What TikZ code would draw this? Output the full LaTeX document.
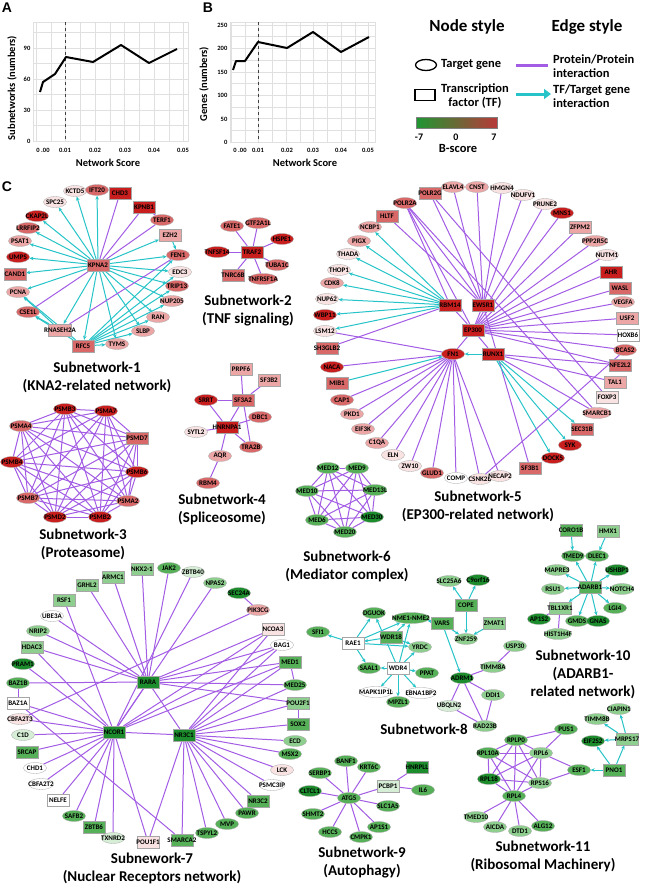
\documentclass[tikz,border=0pt]{standalone}
\usepackage{fontspec}
\setmainfont{Carlito}
\newfontfamily\arialfont{Liberation Sans}
\usepackage{xcolor}
\usepackage{tikz}
\usetikzlibrary{shapes.geometric,arrows.meta}

\definecolor{r3}{RGB}{200,30,30}
\definecolor{r2}{RGB}{217,104,104}
\definecolor{r1}{RGB}{236,166,166}
\definecolor{r0}{RGB}{249,226,226}
\definecolor{g3}{RGB}{28,140,44}
\definecolor{g2}{RGB}{86,176,88}
\definecolor{g1}{RGB}{142,206,142}
\definecolor{g0}{RGB}{214,238,214}
\definecolor{ppicol}{RGB}{163,92,228}
\definecolor{tfcol}{RGB}{38,196,200}
\definecolor{bgreen}{RGB}{30,150,50}
\definecolor{bred}{RGB}{184,58,58}

\pgfdeclarelayer{paper}
\pgfdeclarelayer{edges}
\pgfsetlayers{paper,edges,main}

\newcommand{\gbox}[1]{\makebox[0.7\width]{#1}} % label may run over its node

\begin{document}
\begin{tikzpicture}[x=1pt,y=-1pt,
    tg/.style={ellipse, draw=black!35, line width=0.3pt, minimum width=23pt, minimum height=11pt, inner sep=0pt, font=\fontsize{7}{7.5}\selectfont\bfseries},
    tfbox/.style={rectangle, draw=black!35, line width=0.3pt, minimum width=22pt, minimum height=12pt, inner sep=0.5pt, font=\fontsize{7}{7.5}\selectfont\bfseries},
    ppi/.style={draw=ppicol, line width=1pt},
    tf/.style={draw=tfcol, line width=1pt, -{Stealth[length=4pt,width=3.5pt]}},
    ttl/.style={font=\fontsize{15}{18}\selectfont\bfseries, align=center},
    panel/.style={font=\arialfont\bfseries\fontsize{14}{16}\selectfont},
    tick/.style={font=\fontsize{6.5}{7}\selectfont\bfseries, inner sep=0.5pt},
    axt/.style={font=\fontsize{10.5}{12}\selectfont\bfseries},
    gridline/.style={draw=black!12, line width=0.5pt},
    dataline/.style={line width=2pt, line join=round},
    lhead/.style={font=\fontsize{17}{19}\selectfont\bfseries},
    ltext/.style={font=\fontsize{12.5}{14.5}\selectfont\bfseries, inner sep=0pt},
    lsmall/.style={font=\fontsize{10}{11}\selectfont\bfseries, inner sep=0pt}]

    \begin{pgfonlayer}{paper}
        \fill[white] (0,0) rectangle (645,886);
    \end{pgfonlayer}
    \useasboundingbox (0,0) rectangle (645,886);

    % panel A: subnetworks against network score
    \node[panel] (lblA) at (7,8) {A};
    \foreach \i in {0,...,10} \draw[gridline] ({36+\i*14.75},22) -- ({36+\i*14.75},141);
    \foreach \j in {0,...,7} \draw[gridline] (33,{141-\j*15.5}) -- (188,{141-\j*15.5});
    \draw[gridline] (33,22) rectangle (188,141);
    \draw[dashed, black!75, line width=0.8pt] (65,22) -- (65,141);
    \draw[dataline] (40,92) -- (43,82) -- (55,74) -- (66,57) -- (93,62) -- (121,45) -- (149,63) -- (177,49);
    \foreach \v/\py [count=\k] in {0/141,30/110,60/79,90/48} \node[tick, anchor=east] (tay\k) at (31,\py) {\v};
    \foreach \px/\v [count=\k] in {43/0 .00,65/0.01,95/0.02,125/0.03,154/0.04,183/0.05} \node[tick] (tax\k) at (\px,150) {\v};
    \node[axt, rotate=90] (ylA) at (12,88) {Subnetworks (numbers)};
    \node[axt] (xlA) at (108,163) {Network Score};

    % panel B: genes against network score
    \node[panel] (lblB) at (208,8) {B};
    \foreach \i in {0,...,10} \draw[gridline] ({231+\i*13.75},22) -- ({231+\i*13.75},142);
    \foreach \j in {0,...,10} \draw[gridline] (230,{142-\j*11.7}) -- (375,{142-\j*11.7});
    \draw[gridline] (230,22) rectangle (375,142);
    \draw[dashed, black!75, line width=0.8pt] (258,22) -- (258,142);
    \draw[dataline] (233,70) -- (236,61) -- (245,61) -- (258,42) -- (287,48) -- (313,32) -- (341,52) -- (369,37);
    \foreach \v/\py [count=\k] in {0/142,50/119,100/95,150/72,200/48,250/25} \node[tick, anchor=east] (tby\k) at (228,\py) {\v};
    \foreach \px/\v [count=\k] in {240/0 .00,258/0.01,287/0.02,313/0.03,341/0.04,368/0.05} \node[tick] (tbx\k) at (\px,150) {\v};
    \node[axt, rotate=90] (ylB) at (204,84) {Genes (numbers)};
    \node[axt] (xlB) at (305,163) {Network Score};

    % legend
    \node[lhead] (nodestyle) at (467,27) {Node style};
    \node[lhead] (edgestyle) at (587,27) {Edge style};
    \node[ellipse, draw, line width=1.3pt, minimum width=21pt, minimum height=11pt, inner sep=0pt] (lgtg) at (426,65) {};
    \node[ltext, anchor=west] (lgtgt) at (441,65) {Target gene};
    \node[draw, line width=1.3pt, minimum width=20pt, minimum height=11pt, inner sep=0pt] (lgtf) at (425,95) {};
    \node[ltext, align=center] (lgtft) at (475,96) {Transcription\\factor (TF)};
    \shade[left color=bgreen, middle color=white, right color=bred] (416,117) rectangle (497,128);
    \draw[black!50, line width=0.4pt] (416,117) rectangle (497,128);
    \foreach \px/\v [count=\k] in {419/-7,456/0,494/7} \node[lsmall] (lgb\k) at (\px,137) {\v};
    \node[ltext] (lgbs) at (458,148) {B-score};
    \coordinate (lgp1) at (516,65);
    \coordinate (lgp2) at (548,65);
    \draw[ppi, line width=3pt] (lgp1) -- (lgp2);
    \coordinate (lgt1) at (516,94);
    \coordinate (lgt2) at (551,94);
    \draw[draw=tfcol, line width=3pt, -{Triangle[length=7pt,width=10pt]}] (lgt1) -- (lgt2);
    \node[ltext, anchor=west, align=left] (lgppi) at (553,66) {Protein/Protein\\interaction};
    \node[ltext, anchor=west, align=left] (lgtfe) at (553,96) {TF/Target gene\\interaction};

    % panel C
    \node[panel] (lblC) at (7,187) {C};

    % subnetwork-1
    \foreach \gn/\gx/\gy/\gc in {KCTD5/75/191/r0, IFT20/97/190/r2, SPC25/55/202/r0, TERF1/162/220/r2, CKAP2L/37/216/r3,
        LRRFIP2/28/228/r2, PSAT1/20/241/r1, FEN1/178/255/r2, UMPS/18/257/r3, EDC3/180/272/r0, TRIP13/177/286/r2,
        PCNA/18/292/r1, NUP205/172/301/r1, CSE1L/28/312/r2, RAN/158/317/r1, SLBP/143/331/r1, TYMS/117/344/r1}
        \node[tg, fill=\gc] (\gn) at (\gx,\gy) {\gbox{\gn}};
    \foreach \gn/\gx/\gy/\gc in {KPNA2/98/265/r2, CHD3/120/193/r3, KPNB1/144/207/r3, EZH2/170/235/r1,
        CAND1/15/274/r2, RNASEH2A/60/330/r1, RFC5/83/346/r2}
        \node[tfbox, fill=\gc] (\gn) at (\gx,\gy) {\gbox{\gn}};
    \node[ttl] (sn1) at (97,377) {Subnetwork-1\\(KNA2-related network)};

    % subnetwork-2
    \foreach \gn/\gx/\gy/\gc in {FATE1/232/226/r2, GTF2A1L/258/223/r2, HSPE1/282/239/r3, TNFSF14/217/252/r3,
        TUBA1C/277/265/r2, TNFRSF1A/263/279/r2}
        \node[tg, fill=\gc] (\gn) at (\gx,\gy) {\gbox{\gn}};
    \foreach \gn/\gx/\gy/\gc in {TRAF2/252/252/r3, TNRC6B/233/275/r2}
        \node[tfbox, fill=\gc] (\gn) at (\gx,\gy) {\gbox{\gn}};
    \node[ttl] (sn2) at (248,311) {Subnetwork-2\\(TNF signaling)};

    % subnetwork-3
    \foreach \gn/\gx/\gy/\gc in {PSMB3/65/409/r3, PSMA7/106/411/r3, PSMA4/21/426/r2, PSMB4/12/462/r3, PSMB6/137/472/r3,
        PSMB7/28/498/r2, PSMA2/128/501/r2, PSMD2/55/517/r3, PSMB2/100/517/r3}
        \node[tg, fill=\gc] (\gn) at (\gx,\gy) {\gbox{\gn}};
    \node[tfbox, fill=r2] (PSMD7) at (137,438) {\gbox{PSMD7}};
    \node[ttl] (sn3) at (83,544) {Subnetwork-3\\(Proteasome)};

    % subnetwork-4
    \foreach \gn/\gx/\gy/\gc in {SRRT/206/400/r3, DBC1/260/417/r2, SYTL2/196/432/r0, TRA2B/251/447/r2,
        AQR/220/456/r1, RBM4/208/483/r2}
        \node[tg, fill=\gc] (\gn) at (\gx,\gy) {\gbox{\gn}};
    \foreach \gn/\gx/\gy/\gc in {PRPF6/241/369/r1, SF3B2/269/380/r1, SF3A2/243/400/r2, HNRNPA1/227/427/r3}
        \node[tfbox, fill=\gc] (\gn) at (\gx,\gy) {\gbox{\gn}};
    \node[ttl] (sn4) at (222,509) {Subnetwork-4\\(Spliceosome)};

    % subnetwork-5
    \foreach \gn/\gx/\gy/\gc in {ELAVL4/453/187/r1, CNST/477/187/r1, HMGN4/502/188/r0, NDUFV1/523/195/r0,
        POLR2A/405/203/r2, PRUNE2/545/204/r0, MNS1/562/213/r3, NCBP1/370/227/r1, PIGX/359/241/r1,
        PPP2R5C/595/241/r1, THADA/348/254/r0, NUTM1/607/255/r0, THOP1/339/270/r0, CDK8/332/283/r1,
        NUP62/327/299/r0, VEGFA/623/302/r1, WBP11/325/315/r3, LSM12/325/331/r0, BCAS2/625/350/r2,
        NACA/332/367/r3, CAP1/342/400/r2, PKD1/352/414/r1, SMARCB1/597/413/r1, EIF3K/363/429/r1,
        C1QA/377/443/r1, SYK/570/445/r3, ELN/393/455/r0, DOCK5/553/458/r3, ZW10/410/466/r0,
        GLUD1/432/473/r2, COMP/456/478/white, CSNK2B/480/479/r0, NECAP2/500/476/r0, FN1/453/354/r3}
        \node[tg, fill=\gc] (\gn) at (\gx,\gy) {\gbox{\gn}};
    \foreach \gn/\gx/\gy/\gc in {POLR2G/430/193/r2, HLTF/387/216/r2, ZFPM2/580/227/r1, AHR/611/272/r3,
        WASL/620/288/r2, USF2/627/318/r1, HOXB6/628/335/white, SH3GLB2/327/348/r2, NFE2L2/620/365/r2,
        MIB1/337/383/r2, TAL1/615/382/r1, FOXP3/607/397/r0, SEC31B/582/429/r2, SF3B1/530/468/r2,
        RBM14/450/305/r3, EWSR1/483/305/r3, EP300/473/330/r3, RUNX1/493/354/r3}
        \node[tfbox, fill=\gc] (\gn) at (\gx,\gy) {\gbox{\gn}};
    \node[ttl] (sn5) at (478,506) {Subnetwork-5\\(EP300-related network)};

    % subnetwork-6
    \foreach \gn/\gx/\gy/\gc in {MED12/328/468/g2, MED9/357/468/g2, MED10/307/491/g2, MED13L/375/490/g2,
        MED6/317/520/g2, MED30/372/517/g3, MED20/345/532/g2}
        \node[tg, fill=\gc] (\gn) at (\gx,\gy) {\gbox{\gn}};
    \node[ttl] (sn6) at (347,566) {Subnetwork-6\\(Mediator complex)};

    % subnetwork-7
    \foreach \gn/\gx/\gy/\gc in {JAK2/169/568/g2, ZBTB40/193/572/g0, NPAS2/215/583/g1, SEC24A/239/593/g3,
        PIK3CG/258/610/r1, UBE3A/52/616/white, NRIP2/38/631/g1, BAG1/282/645/white, PRAM1/23/664/g3,
        BAZ1B/18/683/g2, MED25/295/685/g2, CBFA2T3/20/719/r0, C1D/23/735/g0, ECD/295/741/g1,
        MSX2/290/754/g2, CHD1/35/768/white, LCK/282/770/r0, CBFA2T2/41/784/white, PSMC3IP/272/785/white,
        SAFB2/74/816/g2, PAWR/247/813/g2, MVP/227/824/g2, TSPYL2/207/833/g2, TXNRD2/113/838/g0}
        \node[tg, fill=\gc] (\gn) at (\gx,\gy) {\gbox{\gn}};
    \foreach \gn/\gx/\gy/\gc in {ARMC1/113/577/g1, NKX2-1/142/569/g1, GRHL2/87/585/g1, RSF1/64/600/g1,
        NCOA3/273/629/r0, HDAC3/32/647/g1, MED1/290/662/g2, BAZ1A/18/703/white, POU2F1/298/703/g1,
        SOX2/298/724/g2, SRCAP/27/752/g2, NELFE/58/800/white, NR3C2/258/801/g2, ZBTB6/94/827/g2,
        POU1F1/148/842/r0, SMARCA2/182/840/g2, RARA/148/682/g3, NCOR1/114/732/g3, NR3C1/184/735/g3}
        \node[tfbox, fill=\gc] (\gn) at (\gx,\gy) {\gbox{\gn}};
    \node[ttl] (sn7) at (152,868) {Subnework-7\\(Nuclear Receptors network)};

    % subnetwork-8
    \foreach \gn/\gx/\gy/\gc in {SLC25A6/449/581/g1, C9orf16/478/580/g3, DGUOK/374/613/g2, NME1-NME2/411/618/g2,
        ZNF259/466/639/g1, YRDC/420/647/g1, USP30/515/646/g1, SAAL1/369/668/g2, TIMM8A/493/667/g1,
        PPAT/427/673/g2, ADRM1/462/678/g3, MAPK1IP1L/376/692/white, EBNA1BP2/421/693/white,
        MPZL1/398/702/g2, DDI1/493/695/g1, UBQLN2/449/706/g0, RAD23B/485/726/g1, SFI1/318/632/g2}
        \node[tg, fill=\gc] (\gn) at (\gx,\gy) {\gbox{\gn}};
    \foreach \gn/\gx/\gy/\gc in {COPE/466/605/g2, VARS/442/623/g2, ZMAT1/494/623/g1, RAE1/353/643/white,
        WDR18/391/637/g2, WDR4/398/668/white}
        \node[tfbox, fill=\gc] (\gn) at (\gx,\gy) {\gbox{\gn}};
    \node[ttl] (sn8) at (424,729) {Subnetwork-8};

    % subnetwork-9
    \foreach \gn/\gx/\gy/\gc in {BANF1/346/761/g2, KRT6C/369/767/g2, SERBP1/320/773/g2, CLTCL1/310/791/g3,
        ATG5/349/798/g2, IL6/423/790/g2, SLC1A5/388/806/g2, SHMT2/313/814/g2, AP1S1/379/827/g2,
        HCCS/330/832/g2, CMPK1/361/837/g2}
        \node[tg, fill=\gc] (\gn) at (\gx,\gy) {\gbox{\gn}};
    \foreach \gn/\gx/\gy/\gc in {HNRPLL/417/767/g3, PCBP1/388/786/g0}
        \node[tfbox, fill=\gc] (\gn) at (\gx,\gy) {\gbox{\gn}};
    \node[ttl] (sn9) at (362,862) {Subnetwork-9\\(Autophagy)};

    % subnetwork-10
    \foreach \gn/\gx/\gy/\gc in {TMED9/573/556/g2, DLEC1/597/556/g2, MAPRE3/557/570/g1, USHBP1/617/570/g3,
        RSU1/553/589/g1, NOTCH4/622/589/g1, LGI4/615/608/g2, AP1S2/539/619/g3, GMDS/577/621/g2,
        GNAS/598/621/g3, HIST1H4F/558/634/g1}
        \node[tg, fill=\gc] (\gn) at (\gx,\gy) {\gbox{\gn}};
    \foreach \gn/\gx/\gy/\gc in {CORO1B/571/530/g2, HMX1/608/531/g1, ADARB1/590/587/g2, TBL1XR1/560/608/g1}
        \node[tfbox, fill=\gc] (\gn) at (\gx,\gy) {\gbox{\gn}};
    \node[ttl] (sn10) at (583,674) {Subnetwork-10\\(ADARB1-\\related network)};

    % subnetwork-11
    \foreach \gn/\gx/\gy/\gc in {CIAPIN1/619/709/g1, TIMM8B/597/719/g1, PUS1/566/729/g2, RPLP0/516/740/g2,
        EIF2S2/593/741/g3, RPL10A/488/753/g2, RPL6/541/753/g1, ESF1/579/770/g2, RPL18/489/779/g3,
        RPS16/540/783/g1, RPL4/514/796/g2, TMED10/476/817/g1, AICDA/495/827/g1, DTD1/520/831/g1,
        ALG12/543/826/g2}
        \node[tg, fill=\gc] (\gn) at (\gx,\gy) {\gbox{\gn}};
    \foreach \gn/\gx/\gy/\gc in {MRPS17/627/739/g1, PNO1/614/770/g2}
        \node[tfbox, fill=\gc] (\gn) at (\gx,\gy) {\gbox{\gn}};
    \node[ttl] (sn11) at (543,856) {Subnetwork-11\\(Ribosomal Machinery)};

    % connectors, under the nodes
    \begin{pgfonlayer}{edges}
        % subnetwork-1
        \foreach \t in {KCTD5,IFT20,SPC25,CKAP2L,LRRFIP2,PSAT1,UMPS,CAND1,PCNA,EZH2,FEN1,EDC3,TRIP13,NUP205,RAN,SLBP,TYMS,RFC5,RNASEH2A}
            \draw[tf] (KPNA2) -- (\t);
        \foreach \t in {CHD3,KPNB1,TERF1,CSE1L} \draw[ppi] (KPNA2) -- (\t);
        \foreach \t in {FEN1,EDC3,TRIP13,NUP205,RAN,SLBP,TYMS,CSE1L,PCNA} \draw[tf] (RFC5) -- (\t);
        \foreach \a/\b in {KPNB1/TERF1,RNASEH2A/FEN1} \draw[ppi] (\a) -- (\b);
        \foreach \a/\b in {EZH2/FEN1,RNASEH2A/CSE1L,RNASEH2A/PCNA} \draw[tf] (\a) -- (\b);

        % subnetwork-2
        \foreach \t in {FATE1,GTF2A1L,HSPE1,TNFSF14,TUBA1C,TNRC6B,TNFRSF1A} \draw[ppi] (TRAF2) -- (\t);

        % subnetwork-3, nearly every pair
        \def\snthree{PSMB3,PSMA7,PSMA4,PSMD7,PSMB4,PSMB6,PSMB7,PSMA2,PSMD2,PSMB2}
        \foreach \a [count=\i] in \snthree
            \foreach \b [count=\j] in \snthree
                {\ifnum\i<\j \draw[ppi] (\a) -- (\b); \fi}

        % subnetwork-4
        \foreach \a/\b in {SF3A2/PRPF6,SF3A2/SF3B2,SF3A2/SRRT,SF3A2/HNRNPA1,SF3A2/TRA2B,HNRNPA1/SRRT,
            HNRNPA1/SYTL2,HNRNPA1/DBC1,HNRNPA1/AQR,HNRNPA1/TRA2B,AQR/RBM4}
            \draw[ppi] (\a) -- (\b);

        % subnetwork-5
        \foreach \t in {POLR2G,ELAVL4,CNST,HMGN4,NDUFV1,POLR2A,HLTF,EP300,SF3B1} \draw[ppi] (EWSR1) -- (\t);
        \foreach \t in {RBM14,FN1,RUNX1,PRUNE2,MNS1,ZFPM2,PPP2R5C,NUTM1,AHR,WASL,VEGFA,USF2,HOXB6,BCAS2,NFE2L2,POLR2A}
            \draw[ppi] (EP300) -- (\t);
        \foreach \t in {NCBP1,PIGX,THADA,THOP1,CDK8,NUP62,WBP11,LSM12} \draw[tf] (RBM14) -- (\t);
        \foreach \t in {LSM12,NACA,CAP1,PKD1,EIF3K,C1QA,ELN,ZW10,GLUD1,COMP,CSNK2B,NECAP2} \draw[ppi] (FN1) -- (\t);
        \foreach \t in {FN1,SEC31B,SYK,DOCK5} \draw[tf] (RUNX1) -- (\t);
        \foreach \a/\b in {RBM14/SH3GLB2,RUNX1/TAL1,RUNX1/SMARCB1,RUNX1/NFE2L2,POLR2A/SMARCB1,CSNK2B/BCAS2,
            POLR2G/FOXP3,RBM14/POLR2A}
            \draw[ppi] (\a) -- (\b);
        \draw[tf] (MIB1) -- (FN1);

        % subnetwork-6, every pair
        \def\snsix{MED12,MED9,MED10,MED13L,MED6,MED30,MED20}
        \foreach \a [count=\i] in \snsix
            \foreach \b [count=\j] in \snsix
                {\ifnum\i<\j \draw[ppi] (\a) -- (\b); \fi}

        % subnetwork-7
        \foreach \t in {ARMC1,NKX2-1,JAK2,GRHL2,UBE3A,NRIP2,HDAC3,BAZ1B,NCOA3,BAG1,MED1,MED25,POU2F1,NCOR1,NR3C1}
            \draw[ppi] (RARA) -- (\t);
        \foreach \t in {RSF1,HDAC3,PRAM1,BAZ1A,CBFA2T3,C1D,SRCAP,CHD1,CBFA2T2,NELFE,SAFB2,ZBTB6,TXNRD2,POU1F1,
            NR3C1,NCOA3,BAG1,MED1,ZBTB40,NPAS2}
            \draw[ppi] (NCOR1) -- (\t);
        \foreach \t in {NCOA3,BAG1,MED1,MED25,POU2F1,SOX2,ECD,MSX2,LCK,PSMC3IP,NR3C2,PAWR,MVP,TSPYL2,SMARCA2,POU1F1}
            \draw[ppi] (NR3C1) -- (\t);
        \foreach \a/\b in {SEC24A/PIK3CG,PIK3CG/CBFA2T3,BAZ1A/BAZ1B,BAZ1A/SMARCA2,MED1/MED25,POU2F1/SOX2}
            \draw[ppi] (\a) -- (\b);

        % subnetwork-8
        \foreach \t in {SFI1,DGUOK,NME1-NME2,YRDC,SAAL1} \draw[tf] (RAE1) -- (\t);
        \foreach \t in {NME1-NME2,YRDC,RAE1} \draw[tf] (WDR18) -- (\t);
        \foreach \t in {SAAL1,PPAT,MAPK1IP1L,EBNA1BP2,MPZL1,NME1-NME2,YRDC,DGUOK} \draw[tf] (WDR4) -- (\t);
        \foreach \t in {NME1-NME2,ZNF259,ADRM1} \draw[tf] (VARS) -- (\t);
        \foreach \t in {SLC25A6,C9orf16,ZNF259} \draw[tf] (COPE) -- (\t);
        \draw[tf] (ZMAT1) -- (ZNF259);
        \foreach \a/\b in {ADRM1/TIMM8A,TIMM8A/USP30,ADRM1/DDI1,ADRM1/UBQLN2,ADRM1/RAD23B,UBQLN2/RAD23B,DDI1/RAD23B}
            \draw[ppi] (\a) -- (\b);

        % subnetwork-9
        \foreach \t in {BANF1,KRT6C,SERBP1,CLTCL1,SHMT2,HCCS,CMPK1,AP1S1,SLC1A5,PCBP1} \draw[ppi] (ATG5) -- (\t);
        \foreach \t in {HNRPLL,IL6} \draw[ppi] (PCBP1) -- (\t);

        % subnetwork-10
        \foreach \t in {TMED9,DLEC1,MAPRE3,USHBP1,RSU1,NOTCH4,TBL1XR1,LGI4,GMDS,GNAS} \draw[tf] (ADARB1) -- (\t);
        \draw[tf] (CORO1B) -- (TMED9);
        \draw[tf] (HMX1) -- (DLEC1);
        \foreach \t in {AP1S2,HIST1H4F} \draw[ppi] (TBL1XR1) -- (\t);

        % subnetwork-11, ribosome core is every pair
        \def\sneleven{RPLP0,RPL10A,RPL6,RPL18,RPS16,RPL4}
        \foreach \a [count=\i] in \sneleven
            \foreach \b [count=\j] in \sneleven
                {\ifnum\i<\j \draw[ppi] (\a) -- (\b); \fi}
        \foreach \a/\b in {RPLP0/PUS1,RPL6/PUS1,RPL6/ESF1,RPS16/ESF1,RPL4/TMED10,RPL4/AICDA,RPL4/DTD1,RPL4/ALG12}
            \draw[ppi] (\a) -- (\b);
        \foreach \a/\b in {PNO1/ESF1,MRPS17/CIAPIN1,MRPS17/TIMM8B,MRPS17/EIF2S2,PNO1/MRPS17,PNO1/EIF2S2}
            \draw[tf] (\a) -- (\b);
    \end{pgfonlayer}
\end{tikzpicture}
\end{document}
